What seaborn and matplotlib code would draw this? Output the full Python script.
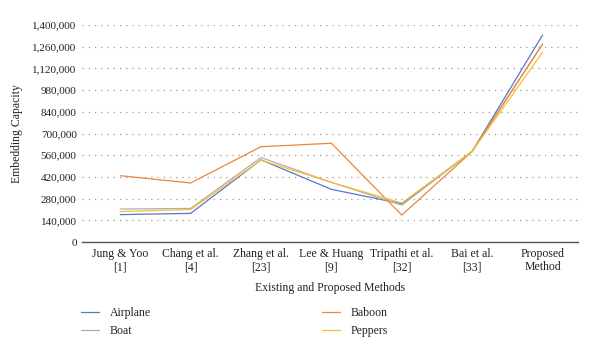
import numpy as np
import pandas as pd
import matplotlib
matplotlib.use('Agg')
import matplotlib.pyplot as plt
import seaborn as sns

methods = ['Jung & Yoo\n[1]', 'Chang et al.\n[4]', 'Zhang et al.\n[23]', 'Lee & Huang\n[9]',
           'Tripathi et al.\n[32]', 'Bai et al.\n[33]', 'Proposed\nMethod']
airplane = [177000, 185000, 530000, 340000, 247000, 585000, 1335000]
baboon = [428000, 381000, 615000, 637000, 174000, 585000, 1277000]
boat = [213000, 217000, 545000, 385000, 238000, 585000, 1277000]
peppers = [197000, 210000, 528000, 385000, 252000, 585000, 1224000]
yticks = np.arange(0, 1400001, 140000)

series = {'Airplane': airplane, 'Boat': boat, 'Baboon': baboon, 'Peppers': peppers}
colors = {'Airplane': '#5577CC', 'Baboon': '#E8873F', 'Boat': '#AFAFAF', 'Peppers': '#F7C030'}

rows = []
for name, vals in series.items():
    for i, v in enumerate(vals):
        rows.append({'pos': i, 'value': v, 'image': name})
df = pd.DataFrame(rows)

sns.set_style('white')
plt.rcParams['font.family'] = ['Liberation Serif', 'DejaVu Serif']

fig = plt.figure(figsize=(6, 3.56), dpi=100)
ax = fig.add_axes([0.137, 0.32, 0.826, 0.61])

sns.lineplot(data=df, x='pos', y='value', hue='image', palette=colors,
             hue_order=['Airplane', 'Boat', 'Baboon', 'Peppers'],
             linewidth=0.9, ax=ax, legend=True)

ax.set_ylim(0, 1400000)
ax.set_yticks(yticks)
ax.set_yticklabels([f'{v:,}' for v in yticks], fontsize=8)
ax.set_xlim(-0.54, 6.5)
ax.set_xticks(range(len(methods)))
ax.set_xticklabels(methods, fontsize=8.5, linespacing=1.2)
ax.tick_params(axis='both', length=0, pad=4, labelcolor='#222222')
ax.yaxis.grid(True, linestyle=(0, (1, 4)), color='#9a9a9a', linewidth=0.9)
ax.set_axisbelow(True)
for s in ['top', 'right', 'left']:
    ax.spines[s].set_visible(False)
ax.spines['bottom'].set_color('#555555')
ax.spines['bottom'].set_linewidth(1.0)

ax.set_xlabel('Existing and Proposed Methods', fontsize=8.5, labelpad=6, color='#222222')
ax.set_ylabel('Embedding Capacity', fontsize=8.5, labelpad=7, color='#222222')

handles, labels = ax.get_legend_handles_labels()
ax.legend_.remove()
leg = fig.legend(handles, labels, ncol=2, loc='upper left', bbox_to_anchor=(0.118, 0.168),
                 frameon=False, fontsize=8.5, handlelength=1.5, columnspacing=14.5,
                 labelspacing=0.5, handletextpad=0.9)
for t in leg.get_texts():
    t.set_color('#222222')

fig.savefig('out.png', dpi=100)
